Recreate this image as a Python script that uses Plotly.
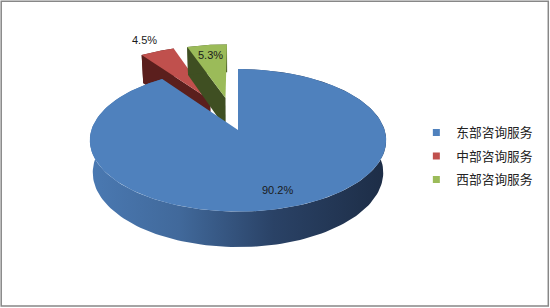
import numpy as np
import plotly.graph_objects as go

# ---- data ----
categories = ["东部咨询服务", "中部咨询服务", "西部咨询服务"]
values = [90.2, 4.5, 5.3]
labels = ["90.2%", "4.5%", "5.3%"]

# ---- style ----
top_colors = ["#4F81BD", "#C0504D", "#9BBB59"]
cut_colors = ["#2b4568", "#5b1f1d", "#3f4f22"]
explode = [0.0, 0.5, 0.5]
explode_turn = [0.0, np.radians(3.5), np.radians(-1.0)]
label_r = [0.8, 1.28, 0.8]

# simple perspective projection of a 3D pie
W, H = 550, 308
cx, cy = 238.0, 130.0
D = 6.07
sphi, cphi = 0.476, 0.879
f = 890.0
h = 0.253


def proj(X, Y, Z):
    X = np.asarray(X, float); Y = np.asarray(Y, float); Z = np.asarray(Z, float)
    yc = Y * cphi + Z * sphi
    zc = D + Z * cphi - Y * sphi
    return cx + f * X / zc, cy - f * yc / zc


total = float(sum(values))
fracs = np.array(values) / total
starts = np.concatenate([[0], np.cumsum(fracs)[:-1]]) * 2 * np.pi
ends = np.cumsum(fracs) * 2 * np.pi

fig = go.Figure()


def add_poly(xs, ys, color, gradient=None):
    kw = dict(x=list(xs) + [xs[0]], y=list(ys) + [ys[0]], mode="lines",
              line=dict(width=0, color=color), fill="toself", fillcolor=color,
              hoverinfo="skip", showlegend=False)
    if gradient is not None:
        kw["fillgradient"] = gradient
    fig.add_trace(go.Scatter(**kw))


def slice_geom(i):
    mid = (starts[i] + ends[i]) / 2
    ed = mid + explode_turn[i]
    ox, oz = explode[i] * np.sin(ed), explode[i] * np.cos(ed)
    th = np.linspace(starts[i], ends[i], max(8, int(200 * fracs[i]) + 8))
    ax, az = ox + np.sin(th), oz + np.cos(th)
    return mid, ox, oz, th, ax, az


# draw far (exploded) slices first, then main slice
order = [1, 2, 0]
annots = []
for i in order:
    mid, ox, oz, th, ax, az = slice_geom(i)
    if i != 0:
        # visible radial cut face at the start angle
        ex, ez = ox + np.sin(starts[i]), oz + np.cos(starts[i])
        px, py = proj([ox, ex, ex, ox], [0, 0, -h, -h], [oz, ez, ez, oz])
        add_poly(px, py, cut_colors[i])
    # outer curved side
    tx, ty = proj(ax, np.zeros_like(ax), az)
    bx, by = proj(ax, -h * np.ones_like(ax), az)
    if i == 0:
        grad = dict(type="horizontal",
                    colorscale=[[0, "#4a79b2"], [0.3, "#41699b"],
                                [0.62, "#2a4266"], [1, "#1d2d46"]])
        add_poly(np.concatenate([tx, bx[::-1]]), np.concatenate([ty, by[::-1]]),
                 "#2b4568", gradient=grad)
    else:
        add_poly(np.concatenate([tx, bx[::-1]]), np.concatenate([ty, by[::-1]]),
                 cut_colors[i])
    # top face
    cxp, cyp = proj([ox], [0], [oz])
    add_poly(np.concatenate([cxp, tx]), np.concatenate([cyp, ty]), top_colors[i])
    # label
    lx, ly = proj([ox + label_r[i] * np.sin(mid)], [0], [oz + label_r[i] * np.cos(mid)])
    annots.append(dict(x=float(lx[0]), y=float(ly[0]), text=labels[i], showarrow=False,
                       font=dict(family="Liberation Sans", size=11, color="#1a1a1a"),
                       xanchor="center", yanchor="middle"))

# legend entries
for i, name in enumerate(categories):
    fig.add_trace(go.Scatter(x=[None], y=[None], mode="markers", name=name,
                             legendgroup=name,
                             marker=dict(symbol="square", size=7, color=top_colors[i])))

fig.update_layout(
    width=W, height=H, margin=dict(l=0, r=0, t=0, b=0),
    paper_bgcolor="white", plot_bgcolor="white",
    xaxis=dict(range=[0, W], visible=False, fixedrange=True),
    yaxis=dict(range=[H, 0], visible=False, fixedrange=True),
    showlegend=True,
    legend=dict(x=0.757, y=0.618, xanchor="left", yanchor="top",
                font=dict(family="Noto Sans CJK SC", size=12.7, color="#222222"),
                traceorder="grouped", tracegroupgap=4, itemwidth=30,
                bgcolor="rgba(0,0,0,0)"),
    annotations=annots,
    shapes=[dict(type="rect", xref="x", yref="y", x0=1.2, y0=1.2, x1=548.3, y1=306,
                 line=dict(color="#878787", width=1.5), fillcolor="rgba(0,0,0,0)")],
    hovermode=False,
)

fig.write_html("out.html")
